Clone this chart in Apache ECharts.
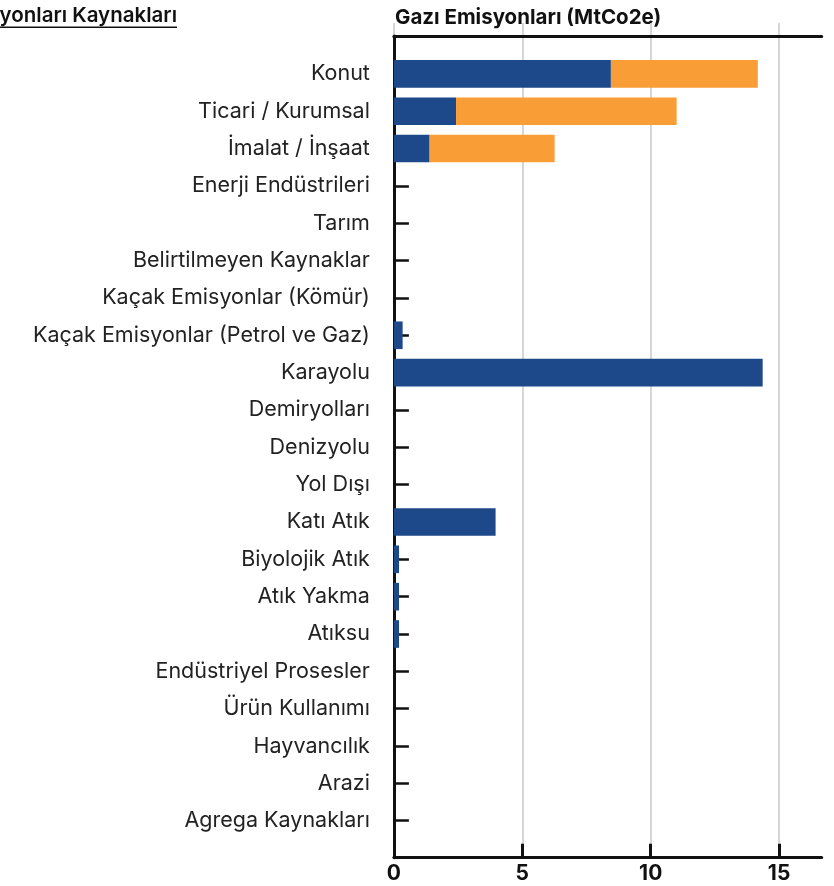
<!DOCTYPE html>
<html><head><meta charset="utf-8">
<script src="https://cdn.jsdelivr.net/npm/echarts@6/dist/echarts.min.js"></script>
<style>html,body{margin:0;padding:0;background:#fff}#c{width:834px;height:886px}</style>
</head><body><div id="c"></div>
<script>
const categories = ["Konut","Ticari / Kurumsal","İmalat / İnşaat","Enerji Endüstrileri","Tarım","Belirtilmeyen Kaynaklar","Kaçak Emisyonlar (Kömür)","Kaçak Emisyonlar (Petrol ve Gaz)","Karayolu","Demiryolları","Denizyolu","Yol Dışı","Katı Atık","Biyolojik Atık","Atık Yakma","Atıksu","Endüstriyel Prosesler","Ürün Kullanımı","Hayvancılık","Arazi","Agrega Kaynakları"];
const seriesBlue = [8.45,2.42,1.39,0,0,0,0,0.34,14.36,0,0,0,3.96,0.2,0.2,0.2,0,0,0,0,0];
const seriesOrange = [5.72,8.59,4.87,0,0,0,0,0,0,0,0,0,0,0,0,0,0,0,0,0,0];
const seriesNames = ["Kapsam 1","Kapsam 2"];
const xTicks = [0,5,10,15];
const headerText = "Gazı Emisyonları (MtCo2e)";
const leftTitle = "Sera Gazı Emisyonları Kaynakları";

const FONT = "Inter";
const chart = echarts.init(document.getElementById('c'));
const L = 393.9, PX = 25.68, W = 834, H = 886;
const xMax = (821.7 - L) / PX;
const frameRight = W - 821.7;
const bottomY = H - 857.7;
const gridCommon = {outerBoundsMode: 'none', containLabel: false};

chart.setOption({
  animation: false,
  textStyle: {fontFamily: FONT},
  graphic: [
    {type:'text', left: 395, top: 7, style:{text: headerText, font: `bold 20.5px ${FONT}`, fill:'#111'}},
    {type:'text', right: W - 177, top: 5, style:{text: leftTitle, font: `600 20.5px ${FONT}`, fill:'#111'}},
    {type:'rect', shape:{x:0, y:26.5, width:177, height:1.6}, style:{fill:'#111'}}
  ],
  grid: [
    Object.assign({left: L, right: frameRight, top: 23, bottom: bottomY}, gridCommon),
    Object.assign({left: L, right: frameRight, top: 36, bottom: bottomY}, gridCommon),
    Object.assign({left: L, right: frameRight, top: 55.2, bottom: H - 839.4}, gridCommon)
  ],
  xAxis: [
    {gridIndex:0, type:'value', min:0, max:xMax, interval:5, position:'bottom',
     axisLine:{show:false},
     axisTick:{show:true, inside:true, length:14, customValues: xTicks, lineStyle:{color:'#111', width:3}},
     axisLabel:{margin:5, customValues: xTicks, fontFamily:FONT, fontWeight:'bold', fontSize:21, color:'#111',
       formatter: v => xTicks.includes(v) ? String(v) : ''},
     splitLine:{show:true, lineStyle:{color:['#c8c8c8','#c8c8c8','#c8c8c8','#c8c8c8','rgba(0,0,0,0)'], width:1.5}}},
    {gridIndex:1, type:'value', min:0, max:1, position:'bottom',
     axisLine:{show:true, lineStyle:{color:'#111', width:3}}, axisTick:{show:false}, axisLabel:{show:false}, splitLine:{show:false}},
    {gridIndex:1, type:'value', min:0, max:1, position:'top',
     axisLine:{show:true, lineStyle:{color:'#111', width:3}}, axisTick:{show:false}, axisLabel:{show:false}, splitLine:{show:false}},
    {gridIndex:2, type:'value', min:0, max:xMax, show:false}
  ],
  yAxis: [
    {gridIndex:0, type:'value', show:false},
    {gridIndex:1, type:'value', min:0, max:1, position:'left',
     axisLine:{show:true, lineStyle:{color:'#111', width:3}}, axisTick:{show:false}, axisLabel:{show:false}, splitLine:{show:false}},
    {gridIndex:2, type:'category', data: categories, inverse:true,
     axisLine:{show:false},
     axisTick:{show:true, inside:true, length:15, alignWithLabel:true, lineStyle:{color:'#111', width:2.5}},
     axisLabel:{margin:24, padding:[5,0,0,0], fontFamily:FONT, fontSize:21.5, color:'#222'}}
  ],
  series: [
    {name: seriesNames[0], type:'bar', stack:'s', xAxisIndex:3, yAxisIndex:2, data: seriesBlue,
     barWidth:'74%', itemStyle:{color:'#1d4889'}, z:3},
    {name: seriesNames[1], type:'bar', stack:'s', xAxisIndex:3, yAxisIndex:2, data: seriesOrange,
     barWidth:'74%', itemStyle:{color:'#f99e37'}, z:3}
  ]
});
</script></body></html>
